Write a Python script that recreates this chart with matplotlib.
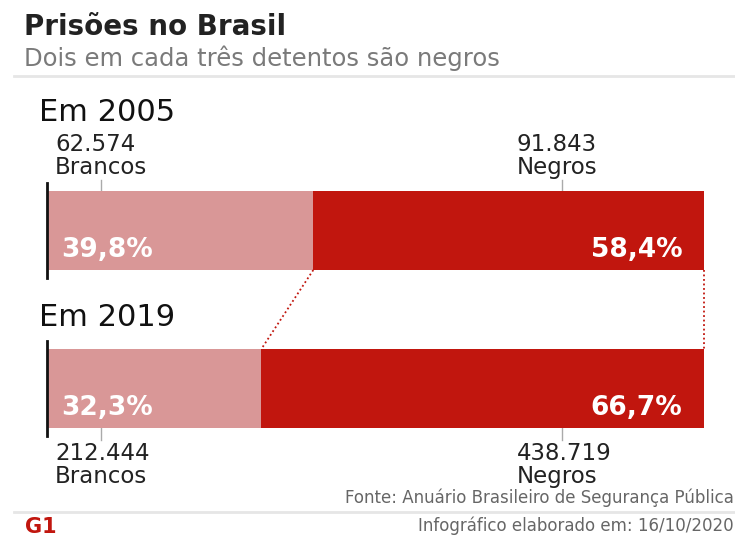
import matplotlib
matplotlib.use('Agg')
import matplotlib.pyplot as plt

# Data
years = ['Em 2005', 'Em 2019']
pct_brancos = [39.8, 32.3]
pct_negros = [58.4, 66.7]
n_brancos = ['62.574', '212.444']
n_negros = ['91.843', '438.719']

light = '#d99797'
dark = '#c1160e'
plt.rcParams['font.family'] = ['DejaVu Sans']

fig = plt.figure(figsize=(7.35, 5.38), dpi=100)

# pixel-space axes for text and decoration
ax = fig.add_axes([0, 0, 1, 1])
ax.set_xlim(0, 735)
ax.set_ylim(538, 0)
ax.axis('off')

# bar axes: x = share of bar, bars at y=0 and y=1 (158 px apart)
bx = fig.add_axes([47 / 735, (538 - 467.5) / 538, (704 - 47) / 735, 316 / 538])
bx.set_xlim(0, 1)
bx.set_ylim(1.5, -0.5)
bx.axis('off')

share_b = [b / (b + n) for b, n in zip(pct_brancos, pct_negros)]
share_n = [n / (b + n) for b, n in zip(pct_brancos, pct_negros)]
ys = [0, 1]
bx.barh(ys, share_b, height=0.5, color=light)
bx.barh(ys, share_n, left=share_b, height=0.5, color=dark)
for y in ys:
    bx.plot([0, 0], [y - 0.3, y + 0.3], color='#111111', lw=2, clip_on=False)

# dotted connectors between bars
bx.plot([share_b[0], share_b[1]], [0.25, 0.75], color=dark, lw=1.3, ls=(0, (1, 1.5)))
bx.plot([1, 1], [0.25, 0.75], color=dark, lw=1.3, ls=(0, (1, 1.5)), clip_on=False)

# percentage labels inside bars
for y, b, n in zip(ys, pct_brancos, pct_negros):
    bx.text(0.022, y + 0.17, f'{b:.1f}%'.replace('.', ','), color='white',
            fontsize=19, fontweight='bold', va='baseline', ha='left')
    bx.text(0.967, y + 0.17, f'{n:.1f}%'.replace('.', ','), color='white',
            fontsize=19, fontweight='bold', va='baseline', ha='right')

# header
ax.text(24, 35, 'Prisões no Brasil', fontsize=20, fontweight='heavy', color='#222222')
ax.text(24, 66, 'Dois em cada três detentos são negros', fontsize=17.5, color='#7a7a7a')
ax.plot([14, 735], [76, 76], color='#e6e6e6', lw=2)

# year titles
ax.text(39, 121, years[0], fontsize=22, color='#111111')
ax.text(39, 326, years[1], fontsize=22, color='#111111')

# counts above first bar
fs = 16.5
ax.text(55, 151, n_brancos[0], fontsize=fs, color='#222222')
ax.text(55, 174, 'Brancos', fontsize=fs, color='#222222')
ax.text(517, 151, n_negros[0], fontsize=fs, color='#222222')
ax.text(517, 174, 'Negros', fontsize=fs, color='#222222')
ax.plot([101, 101], [180, 191], color='#aaaaaa', lw=1)
ax.plot([562, 562], [180, 191], color='#aaaaaa', lw=1)

# counts below second bar
ax.plot([101, 101], [428, 440], color='#aaaaaa', lw=1)
ax.plot([562, 562], [428, 440], color='#aaaaaa', lw=1)
ax.text(55, 460, n_brancos[1], fontsize=fs, color='#222222')
ax.text(55, 483, 'Brancos', fontsize=fs, color='#222222')
ax.text(517, 460, n_negros[1], fontsize=fs, color='#222222')
ax.text(517, 483, 'Negros', fontsize=fs, color='#222222')

# footer
ax.text(734, 503, 'Fonte: Anuário Brasileiro de Segurança Pública', fontsize=12,
        color='#666666', ha='right')
ax.plot([14, 735], [512, 512], color='#e6e6e6', lw=2)
ax.text(734, 531, 'Infográfico elaborado em: 16/10/2020', fontsize=12,
        color='#666666', ha='right')
ax.text(25, 533, 'G1', fontsize=15, fontweight='heavy', color=dark)

fig.savefig('out.png', dpi=100)
